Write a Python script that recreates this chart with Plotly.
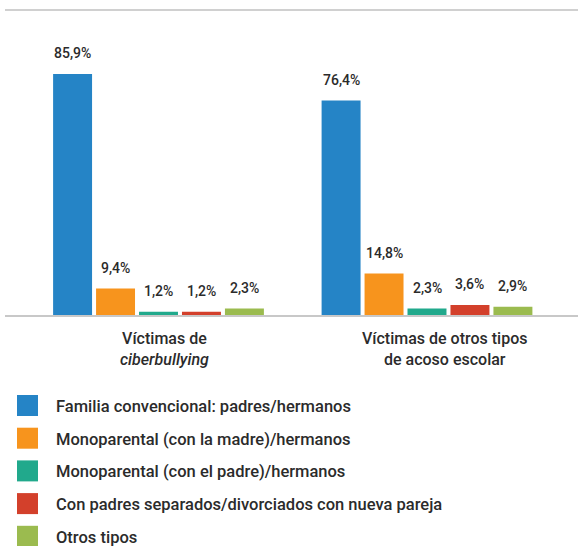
import plotly.graph_objects as go

# Data
groups = ["ciberbullying", "otros tipos"]
group_labels = ["Víctimas de<br><i>ciberbullying</i>", "Víctimas de otros tipos<br>de acoso escolar"]
series_names = [
    "Familia convencional: padres/hermanos",
    "Monoparental (con la madre)/hermanos",
    "Monoparental (con el padre)/hermanos",
    "Con padres separados/divorciados con nueva pareja",
    "Otros tipos",
]
familia_convencional = [85.9, 76.4]
monoparental_madre = [9.4, 14.8]
monoparental_padre = [1.2, 2.3]
padres_separados = [1.2, 3.6]
otros_tipos = [2.3, 2.9]
series_values = [familia_convencional, monoparental_madre, monoparental_padre,
                 padres_separados, otros_tipos]
colors = ["#2584C6", "#F7941D", "#21A98C", "#D3402B", "#9BBB4F"]

FONT = "Roboto"
TEXT = "#2b2b2b"
BARGAP = 0.2
N = len(series_names)

# Figure / plot-area geometry in pixels
W, H = 578, 546
L, R, T, B = 5, 0, 10, 231
PW, PH = W - L - R, H - T - B


def px(x):
    return (x - L) / PW


def py(y):
    return (H - B - y) / PH


fig = go.Figure()
for name, vals, col in zip(series_names, series_values, colors):
    fig.add_trace(go.Bar(x=groups, y=vals, name=name, marker_color=col,
                         marker_line_width=0, showlegend=False))


def fmt(v):
    return f"{v:.1f}%".replace(".", ",")


annotations = []

# Value labels above each bar
slot = (1 - BARGAP) / N
for i, vals in enumerate(series_values):
    for g, v in enumerate(vals):
        annotations.append(dict(
            x=g + (i - (N - 1) / 2) * slot, y=v, xref="x", yref="y",
            text=fmt(v), showarrow=False, yanchor="middle", yshift=20.5,
            font=dict(family=FONT, size=14, color=TEXT, weight=500)))

# Group labels under the axis
label_shift = [6, 17]
for g, lab in enumerate(group_labels):
    annotations.append(dict(
        x=g, y=0, xref="x", yref="y", text=lab, showarrow=False,
        yanchor="top", yshift=-12, xshift=label_shift[g],
        font=dict(family=FONT, size=16, color=TEXT, weight=500)))

# Top rule
shapes = [dict(type="line", xref="paper", yref="paper", x0=0, x1=1,
               y0=py(10), y1=py(10), line=dict(color="#d0d0d0", width=2))]

# Legend: colour swatches with labels
for k, (name, col) in enumerate(zip(series_names, colors)):
    top = 395 + k * 32.7
    shapes.append(dict(type="rect", xref="paper", yref="paper",
                       x0=px(17), x1=px(38), y0=py(top + 21), y1=py(top),
                       fillcolor=col, line_width=0))
    annotations.append(dict(x=px(54), y=py(top + 11.5),
                            xref="paper", yref="paper", xanchor="left",
                            yanchor="middle", text=name, showarrow=False,
                            font=dict(family=FONT, size=16.5, color=TEXT,
                                      weight=500)))

fig.update_layout(
    width=W, height=H,
    margin=dict(l=L, r=R, t=T, b=B),
    barmode="group", bargap=BARGAP, bargroupgap=0.093,
    plot_bgcolor="white", paper_bgcolor="white",
    font=dict(family=FONT, color=TEXT),
    xaxis=dict(range=[-0.5717, 1.5624], showline=True, linecolor="#c8c8c8",
               linewidth=2, ticks="", showticklabels=False, showgrid=False,
               zeroline=False),
    yaxis=dict(range=[0, PH / 2.806], visible=False, showgrid=False,
               zeroline=False),
    annotations=annotations, shapes=shapes,
)

fig.write_html("out.html")
